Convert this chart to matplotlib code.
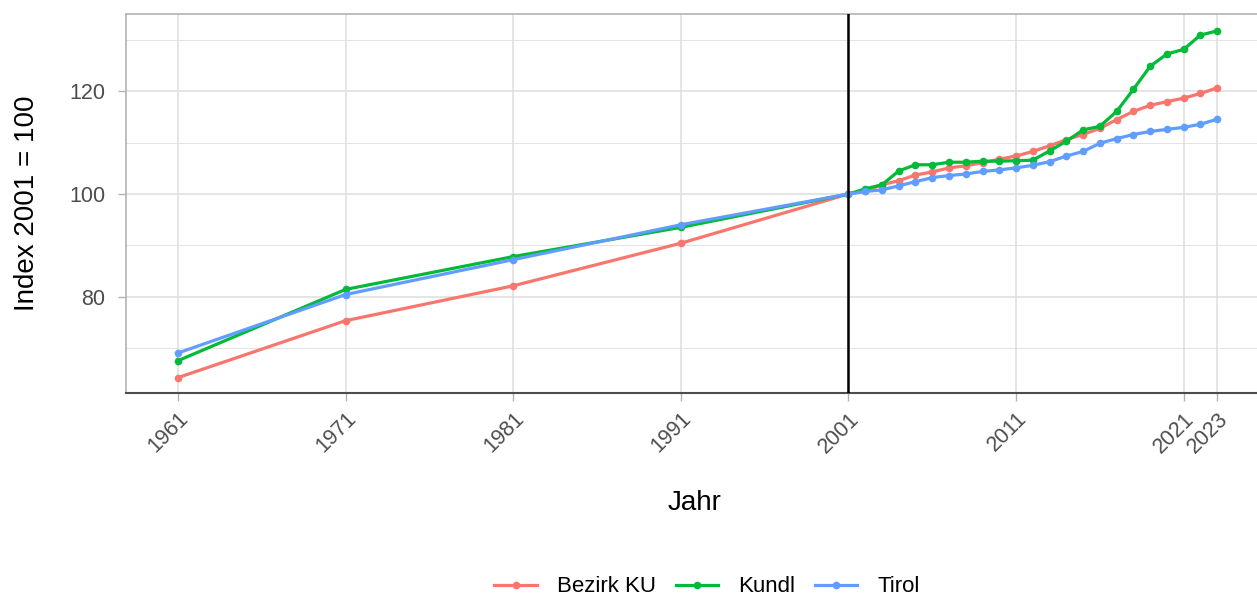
import matplotlib
matplotlib.use("Agg")
import matplotlib.pyplot as plt
from matplotlib.lines import Line2D

plt.rcParams["font.family"] = ["Liberation Sans", "DejaVu Sans"]

years = [1961, 1971, 1981, 1991] + list(range(2001, 2024))

bezirk_ku = [64.2, 75.3, 82.1, 90.4,
             100.0, 100.6, 101.8, 102.6, 103.7, 104.3, 105.1, 105.5, 106.1, 106.8,
             107.4, 108.3, 109.4, 110.6, 111.6, 112.8, 114.5, 116.1, 117.3, 118.0,
             118.7, 119.6, 120.7]
kundl = [67.5, 81.4, 87.8, 93.5,
         100.0, 101.0, 101.8, 104.5, 105.7, 105.7, 106.2, 106.2, 106.4, 106.4,
         106.5, 106.6, 108.4, 110.3, 112.5, 113.2, 116.1, 120.4, 124.9, 127.3,
         128.2, 131.0, 131.8]
tirol = [69.0, 80.4, 87.2, 94.0,
         100.0, 100.5, 100.8, 101.6, 102.4, 103.2, 103.6, 103.9, 104.4, 104.7,
         105.1, 105.6, 106.3, 107.4, 108.3, 109.9, 110.8, 111.6, 112.2, 112.6,
         113.0, 113.6, 114.6]

series_names = ["Bezirk KU", "Kundl", "Tirol"]
series_colors = ["#F8766D", "#00BA38", "#619CFF"]
x_breaks = [1961, 1971, 1981, 1991, 2001, 2011, 2021, 2023]
y_breaks = [80, 100, 120]
y_minor = [70, 90, 110, 130]

W, H = 1257, 598
fig = plt.figure(figsize=(W / 100, H / 100), dpi=100)
ax_left, ax_bottom = 126 / W, 1 - 393 / H
ax_w, ax_h = (W - 126) / W + 0.003, (393 - 14) / H
ax = fig.add_axes([ax_left, ax_bottom, ax_w, ax_h])

ax.set_xlim(1957.9, 2025.6)
ax.set_ylim(61.2, 135.1)

grid_col = "#DEDEDE"
for yb in y_minor:
    ax.axhline(yb, color=grid_col, lw=0.6, zorder=0)
for yb in y_breaks:
    ax.axhline(yb, color=grid_col, lw=1.1, zorder=0)
for xb in x_breaks:
    ax.axvline(xb, color=grid_col, lw=1.1, zorder=0)

for name, vals, col in zip(series_names, [bezirk_ku, kundl, tirol], series_colors):
    ax.plot(years, vals, color=col, lw=2.3, marker="o", ms=5.5, mew=0, label=name, zorder=3)

ax.axvline(2001, color="black", lw=1.8, zorder=4)

ax.set_xticks(x_breaks)
ax.set_xticklabels([str(x) for x in x_breaks], rotation=45, ha="right",
                   rotation_mode="anchor", fontsize=15.5, color="#4D4D4D")
ax.set_yticks(y_breaks)
ax.set_yticklabels([str(y) for y in y_breaks], fontsize=15.5, color="#4D4D4D")
ax.tick_params(axis="both", length=6, width=1, color="#B3B3B3")
ax.tick_params(axis="y", pad=9)
ax.tick_params(axis="x", pad=5)

for s in ["top", "left", "right"]:
    ax.spines[s].set_color("#B3B3B3")
    ax.spines[s].set_linewidth(1.2)
ax.spines["bottom"].set_color("#4D4D4D")
ax.spines["bottom"].set_linewidth(1.5)

fig.text(695 / W, 1 - 503 / H, "Jahr", fontsize=20, ha="center", va="center")
fig.text(27 / W, 1 - 203 / H, "Index 2001 = 100", fontsize=20, ha="center",
         va="center", rotation=90)

handles = [Line2D([0], [0], color=c, lw=2.3, marker="o", ms=5.5, mew=0) for c in series_colors]
fig.legend(handles, series_names, loc="center", bbox_to_anchor=(707 / W, 1 - 587 / H),
           ncol=3, frameon=False, fontsize=16, handlelength=1.9, columnspacing=0.9,
           handletextpad=0.9, borderpad=0)

fig.savefig("out.png", dpi=100)
